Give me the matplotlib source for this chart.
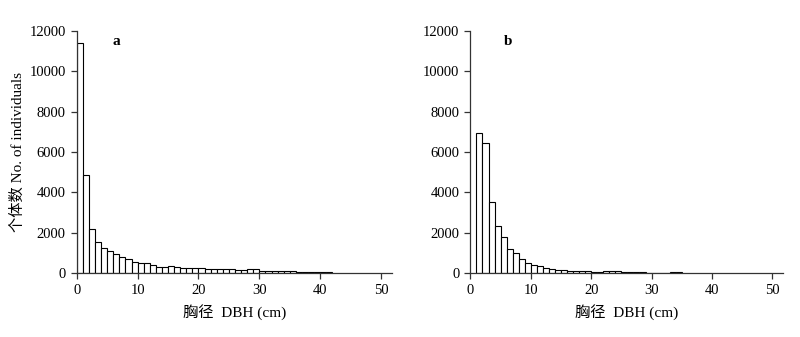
import numpy as np
import matplotlib
matplotlib.use("Agg")
import matplotlib.pyplot as plt

# DBH classes (cm, lower bound of 1 cm class) and counts
DBH_A = np.arange(0, 42)
COUNTS_A = [11400, 4880, 2200, 1550, 1220, 1100, 920, 800, 710, 520,
            500, 470, 390, 320, 310, 350, 310, 260, 250, 250,
            250, 220, 210, 200, 200, 190, 160, 170, 200, 180,
            90, 90, 85, 80, 80, 75, 40, 40, 35, 35,
            30, 30]

DBH_B = np.arange(1, 35)
COUNTS_B = [6950, 6450, 3520, 2320, 1760, 1210, 1010, 715, 510, 415,
            330, 250, 195, 170, 135, 120, 100, 85, 85, 55,
            50, 80, 90, 85, 40, 30, 25, 25, 20, 20,
            20, 20, 35, 35]

PANEL_LABELS = ["a", "b"]
X_TICKS = [0, 10, 20, 30, 40, 50]
Y_TICKS = [0, 2000, 4000, 6000, 8000, 10000, 12000]
XLABEL = "胸径  DBH (cm)"
YLABEL = "个体数 No. of individuals"

FONT = ["Liberation Serif", "Noto Sans CJK SC", "DejaVu Sans"]
plt.rcParams["font.family"] = FONT
plt.rcParams["font.size"] = 10.5

fig = plt.figure(figsize=(8, 3.37), dpi=100)
ax_a = fig.add_axes([0.096, 0.19, 0.394, 0.718])
ax_b = fig.add_axes([0.588, 0.19, 0.391, 0.718])


def draw_panel(ax, dbh, counts, label, label_x):
    ax.bar(dbh, counts, width=1.0, align="edge", facecolor="white",
           edgecolor="black", linewidth=0.8)
    ax.set_xlim(0, 51.8)
    ax.set_ylim(0, 12000)
    ax.set_xticks(X_TICKS)
    ax.set_yticks(Y_TICKS)
    for side in ["top", "right"]:
        ax.spines[side].set_visible(False)
    for side in ["left", "bottom"]:
        ax.spines[side].set_color("#333333")
        ax.spines[side].set_linewidth(0.9)
    ax.tick_params(direction="out", length=4, width=0.9, color="#333333",
                   labelsize=10.5, pad=4)
    ax.set_xlabel(XLABEL, fontsize=11, labelpad=5)
    ax.text(label_x, 0.985, label, transform=ax.transAxes, fontsize=11,
            fontweight="bold", va="top", ha="left")


draw_panel(ax_a, DBH_A, COUNTS_A, PANEL_LABELS[0], 0.112)
draw_panel(ax_b, DBH_B, COUNTS_B, PANEL_LABELS[1], 0.108)
ax_a.set_ylabel(YLABEL, fontsize=11, labelpad=3)

fig.savefig("out.png", dpi=100)
